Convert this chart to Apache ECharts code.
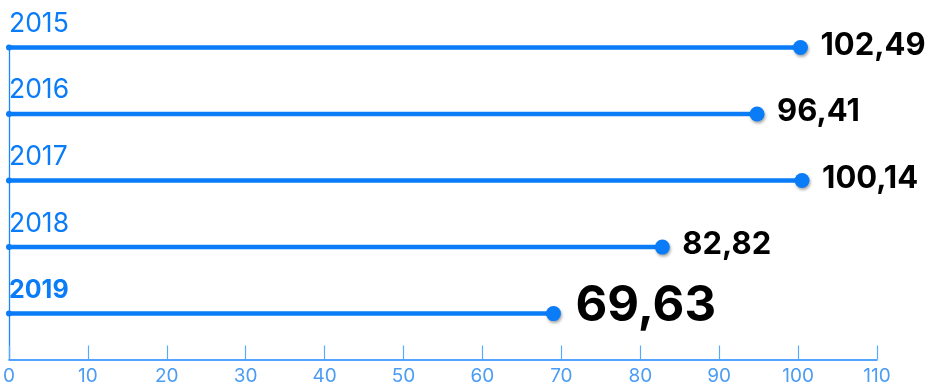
<!DOCTYPE html>
<html>
<head>
<meta charset="utf-8">
<script src="https://cdn.jsdelivr.net/npm/echarts@6/dist/echarts.min.js"></script>
<style>
html,body{margin:0;padding:0;background:#fff;}
#chart{width:930px;height:386px;}
</style>
</head>
<body>
<div id="chart"></div>
<script>
// Data
var categories = ['2015', '2016', '2017', '2018', '2019'];
var plotted = [100.3, 94.8, 100.5, 82.8, 69.0];          // dot positions as drawn
var valueLabels = ['102,49', '96,41', '100,14', '82,82', '69,63'];
var xTicks = [0, 10, 20, 30, 40, 50, 60, 70, 80, 90, 100, 110];

var BLUE = '#0a7cf7';
var LIGHT = '#4a9cf5';
var FONT = 'Inter, "Noto Sans", sans-serif';

var data = plotted.map(function (v, i) { return [v, i]; });
var last = categories.length - 1;

var chart = echarts.init(document.getElementById('chart'), null, {renderer: 'canvas'});
chart.setOption({
  animation: false,
  backgroundColor: '#fff',
  grid: {left: 8, right: 53, top: 47.5, bottom: 26.5, containLabel: false},
  xAxis: {
    type: 'value',
    position: 'bottom',
    min: xTicks[0],
    max: xTicks[xTicks.length - 1],
    interval: 10,
    axisLine: {show: true, onZero: false, lineStyle: {color: '#1a86ff', width: 1.5}},
    axisTick: {show: true, inside: true, length: 14, lineStyle: {color: '#5aa8ff', width: 1.2}},
    axisLabel: {color: LIGHT, fontSize: 19, fontFamily: FONT, margin: 7},
    splitLine: {show: false}
  },
  yAxis: {
    type: 'value',
    inverse: true,
    min: 0,
    max: 4.69,
    interval: 1,
    axisLine: {show: true, onZero: false, lineStyle: {color: '#1a86ff', width: 1.3}},
    axisTick: {show: false},
    splitLine: {show: false},
    axisLabel: {
      inside: true,
      margin: 0,
      align: 'left',
      verticalAlign: 'bottom',
      padding: [0, 0, 11, 0],
      lineHeight: 25,
      color: BLUE,
      fontSize: 26.5,
      fontFamily: FONT,
      showMaxLabel: false,
      formatter: function (val) {
        var i = Math.round(val);
        if (Math.abs(val - i) > 1e-6 || i < 0 || i > last) return '';
        return i === last ? '{b|' + categories[i] + '}' : categories[i];
      },
      rich: {
        b: {fontWeight: 'bold', fontSize: 25, color: BLUE, fontFamily: FONT, lineHeight: 25}
      }
    }
  },
  series: [{
    type: 'custom',
    data: data,
    renderItem: function (params, api) {
      var v = api.value(0), i = api.value(1);
      var start = api.coord([0, i]);
      var end = api.coord([v, i]);
      var big = i === last;
      return {
        type: 'group',
        children: [
          {type: 'line', shape: {x1: start[0], y1: start[1], x2: end[0], y2: end[1]},
           style: {stroke: BLUE, lineWidth: 4.5, lineCap: 'round'}},
          {type: 'circle', shape: {cx: start[0], cy: start[1], r: 3},
           style: {fill: BLUE}},
          {type: 'circle', shape: {cx: end[0], cy: end[1], r: 7.5},
           style: {fill: BLUE, shadowColor: 'rgba(0,0,0,0.35)', shadowBlur: 3, shadowOffsetY: 2, shadowOffsetX: 1}},
          {type: 'text', x: end[0] + (big ? 22 : 20), y: end[1] + (big ? -7 : -2),
           style: {text: valueLabels[params.dataIndex], fill: '#000',
                   font: (big ? 'bold 49px ' : 'bold 31px ') + FONT,
                   align: 'left', verticalAlign: 'middle'}}
        ]
      };
    }
  }]
});
</script>
</body>
</html>
